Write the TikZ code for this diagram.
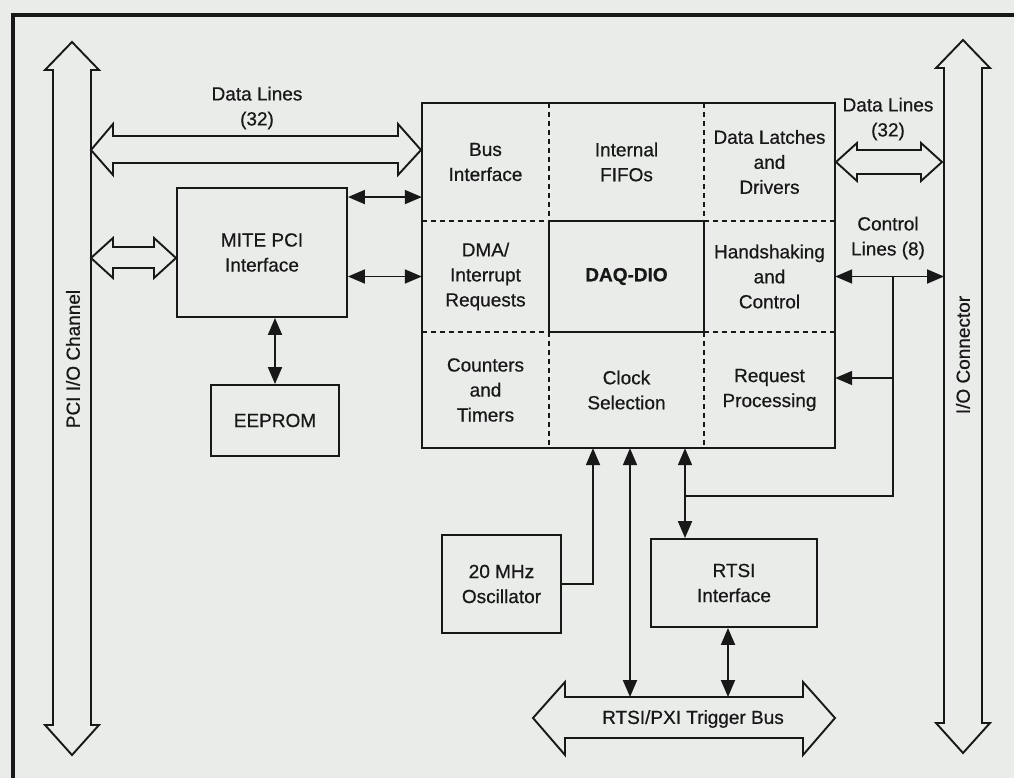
\documentclass[tikz,border=0pt]{standalone}
\usepackage{fontspec}
\setmainfont{Liberation Sans}[FakeBold=0.6]
\usepackage{tikz}
\usetikzlibrary{arrows.meta}
\definecolor{paper}{RGB}{233,236,233}
\definecolor{ink}{RGB}{24,24,24}

\begin{document}
\begin{tikzpicture}[
x=1pt, y=-1pt,
font=\fontsize{19}{25}\selectfont,
every node/.style={text=ink, align=center},
>={Triangle[length=17pt,width=14pt]},
cell/.style={inner sep=0pt},
box/.style={draw=ink, line width=1.9pt, inner sep=0pt},
wire/.style={draw=ink, line width=1.9pt},
dbl/.style={wire, <->},
sng/.style={wire, ->},
dashln/.style={draw=ink, line width=1.6pt, dash pattern=on 5pt off 4pt},
hollow/.style={draw=ink, line width=1.9pt, line join=miter, fill=paper}]
\useasboundingbox (0,0) rectangle (1014,778);
\fill[paper] (0,0) rectangle (1014,778);
\draw[ink, line width=4pt] (13,778) -- (13,15) -- (1014,15);

\draw[hollow] (53,70) -- (45,70) -- (72,42) -- (99,70) -- (91,70) -- (91,725) -- (99,725) -- (72,755) -- (45,725) -- (53,725) -- cycle;
\node [rotate=90] (pci) at (73,359) {PCI I/O Channel};
\draw[hollow] (944,68) -- (936,68) -- (963,40) -- (990,68) -- (982,68) -- (982,723) -- (990,723) -- (963,753) -- (936,723) -- (944,723) -- cycle;
\node [rotate=90] (ioc) at (963,355) {I/O Connector};
\draw[hollow] (91,150) -- (113,124) -- (113,136) -- (398,136) -- (398,124) -- (421,150) -- (398,175) -- (398,163) -- (113,163) -- (113,175) -- cycle;
\draw[hollow] (91,258) -- (113,238) -- (113,247) -- (154,247) -- (154,238) -- (176,258) -- (154,278) -- (154,268) -- (113,268) -- (113,278) -- cycle;
\draw[hollow] (836,162) -- (857,143) -- (857,150) -- (921,150) -- (921,143) -- (942,162) -- (921,181) -- (921,174) -- (857,174) -- (857,181) -- cycle;
\draw[hollow] (533,718) -- (565,682) -- (565,697) -- (803,697) -- (803,682) -- (835,718) -- (803,755) -- (803,738) -- (565,738) -- (565,755) -- cycle;
\coordinate (trigN) at (684,697);
\node (trig) at (693,719) {RTSI/PXI Trigger Bus};

\node (dlleft) at (257,108) {Data Lines\\(32)};
\node (dlright) at (888,119) {Data Lines\\(32)};
\node (ctlines) at (888,238) {Control\\Lines (8)};

\node [box, minimum width=170pt, minimum height=129pt] (mite) at (262,252.5) {MITE PCI\\Interface};
\node [box, minimum width=128pt, minimum height=71pt] (eeprom) at (275,420.5) {EEPROM};
\node [box, minimum width=119pt, minimum height=98pt] (osc) at (501.5,584) {20 MHz\\Oscillator};
\node [box, minimum width=166pt, minimum height=88pt] (rtsi) at (734,583) {RTSI\\Interface};

\node [cell, minimum width=127pt, minimum height=118pt] (bus) at (485.5,162) {Bus\\Interface};
\node [cell, minimum width=155pt, minimum height=118pt] (fifo) at (626.5,162) {Internal\\FIFOs};
\node [cell, minimum width=131pt, minimum height=118pt] (latch) at (769.5,162) {Data Latches\\and\\Drivers};
\node [cell, minimum width=127pt, minimum height=111pt] (dma) at (485.5,276.5) {DMA/\\Interrupt\\Requests};
\node [box, minimum width=155pt, minimum height=111pt] (daq) at (626.5,276.5) {\bfseries DAQ-DIO};
\node [cell, minimum width=131pt, minimum height=111pt] (hand) at (769.5,276.5) {Handshaking\\and\\Control};
\node [cell, minimum width=127pt, minimum height=116pt] (ctr) at (485.5,390) {Counters\\and\\Timers};
\node [cell, minimum width=155pt, minimum height=116pt] (clk) at (626.5,390) {Clock\\Selection};
\node [cell, minimum width=131pt, minimum height=116pt] (req) at (769.5,390) {Request\\Processing};

\draw[box] (bus.north west) rectangle (req.south east);
\draw[dashln] (bus.north east) -- (bus.south east);
\draw[dashln] (fifo.north east) -- (fifo.south east);
\draw[dashln] (bus.south west) -- (bus.south east);
\draw[dashln] (latch.south west) -- (latch.south east);
\draw[dashln] (ctr.north west) -- (ctr.north east);
\draw[dashln] (req.north west) -- (req.north east);
\draw[dashln] (ctr.north east) -- (ctr.south east);
\draw[dashln] (clk.north east) -- (clk.south east);

\coordinate (m1) at ([yshift=-10pt]mite.north east);
\draw[dbl] (m1) -- (m1 -| bus.west);
\draw[dbl] (dma.west -| mite.east) -- (dma.west);
\draw[dbl] (mite.south -| eeprom.north) -- (eeprom.north);

\coordinate (ioL) at (944,276.5);
\coordinate (tap) at (893,276.5);
\draw[dbl] (hand.east) -- (hand.east -| ioL);
\coordinate (rq) at ([yshift=12pt]req.east);
\draw[sng] (tap |- rq) -- (rq);
\coordinate (r1) at ([xshift=-49pt]rtsi.north);
\coordinate (jn) at (685,496);
\draw[wire] (tap) |- (jn);
\draw[dbl] (r1 |- clk.south) -- (r1);

\coordinate (k1) at ([xshift=-33.5pt]clk.south);
\draw[sng] (osc.east) -| (k1);
\coordinate (k2) at ([xshift=3.5pt]clk.south);
\draw[dbl] (k2) -- (k2 |- trigN);
\coordinate (r2) at ([xshift=-6pt]rtsi.south);
\draw[dbl] (r2) -- (r2 |- trigN);
\end{tikzpicture}
\end{document}
